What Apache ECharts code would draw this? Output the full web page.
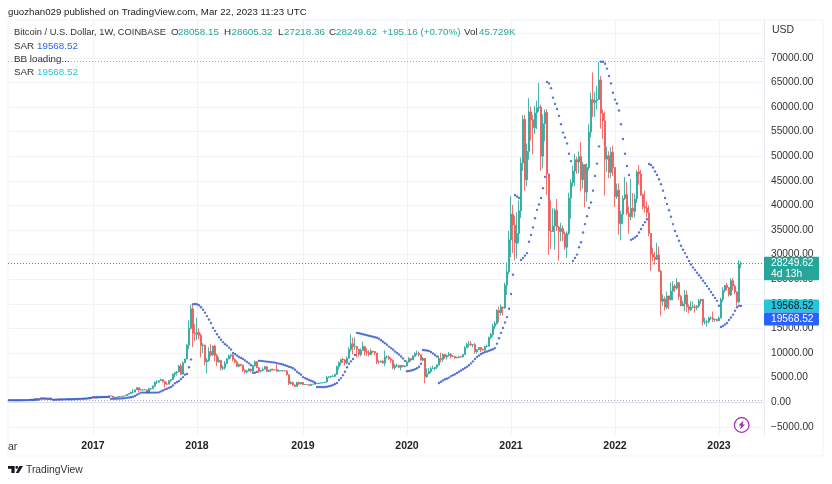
<!DOCTYPE html>
<html>
<head>
<meta charset="utf-8">
<script src="https://cdn.jsdelivr.net/npm/echarts@6/dist/echarts.min.js"></script>
<style>
  html, body { margin: 0; padding: 0; background: #fff; }
  #chart { width: 832px; height: 484px; }
</style>
</head>
<body>
<div id="chart"></div>
<script>
// weekly candles, one row per week as [close, low, high], grouped by month
const weeks = [
  // 2016, starts at week of Mar 14
  [416,408,420],[417,410,425],[420,412,426],
  [420,415,428],[425,415,430],[450,420,470],[447,436,468],
  [455,440,465],[455,445,470],[440,435,458],[530,440,535],[575,525,590],
  [610,570,625],[760,605,780],[660,550,765],[650,620,680],
  [655,610,680],[665,650,690],[655,650,680],[610,590,665],
  [585,520,615],[570,560,600],[580,565,590],[575,565,590],[610,565,620],
  [605,600,630],[605,600,615],[600,590,610],[615,595,620],
  [615,605,625],[640,610,645],[655,625,660],[700,650,740],[705,680,745],
  [700,695,720],[735,695,760],[730,725,750],[770,725,780],
  [780,755,785],[790,770,795],[890,785,920],[970,880,1000],
  // 2017
  [905,880,1150],[820,750,920],[920,810,930],[920,880,930],[1010,915,1030],
  [1000,960,1070],[1050,980,1055],[1190,1040,1200],[1280,1180,1290],
  [1240,1200,1350],[1000,930,1260],[970,890,1120],[1080,960,1095],
  [1210,1080,1220],[1180,1170,1220],[1240,1180,1250],[1320,1230,1330],
  [1620,1320,1650],[1780,1550,1850],[2050,1700,2100],[2050,1800,2700],[2510,2040,2600],
  [2950,2480,3000],[2520,2100,3000],[2500,2450,2780],[2500,2300,2600],
  [2510,2470,2690],[1950,1840,2540],[2750,1930,2930],[2750,2430,2820],[3220,2650,3450],
  [4070,3200,4200],[4080,3700,4480],[4360,3980,4480],[4580,4320,4780],
  [4220,3950,4700],[3680,3000,4350],[3660,3550,4100],[4380,3650,4450],
  [4600,4160,4620],[5680,4560,5850],[6000,5100,6180],[6130,5400,6310],[7380,6100,7600],
  [5700,5500,7880],[8000,5900,8300],[8790,8000,8800],[11600,8700,11800],
  [15000,10800,16600],[19000,14800,19800],[14000,11200,19700],[13800,12400,15900],
  // 2018
  [14200,12600,17200],[13600,12800,15000],[11500,9100,14000],[11600,10000,12000],[8200,7500,11700],
  [8500,5900,9000],[10300,8200,11200],[9600,9300,11800],[11400,9400,11500],
  [9500,8300,11700],[8200,7300,9900],[8500,8000,9200],[6900,6400,8600],
  [7000,6500,7500],[7900,6600,8400],[8800,7800,9000],[9400,8700,9700],[9600,8900,9800],
  [8700,8300,9700],[8200,7900,8900],[7300,7100,8500],[7700,7100,7800],
  [7500,7300,7800],[6500,6100,7600],[6150,5800,6800],[6380,5800,6500],
  [6750,6200,6900],[6350,6100,6800],[7400,6300,7500],[8200,7300,8500],[7000,6900,8300],
  [6300,5900,7150],[6500,6000,6600],[6700,6300,7100],[7200,6700,7400],
  [6250,6100,7400],[6500,6200,6600],[6700,6100,6800],[6600,6400,6800],
  [6600,6450,6650],[6300,6100,7700],[6400,6300,6700],[6400,6300,6500],[6400,6200,6500],
  [6350,6300,6500],[5600,5400,6500],[3800,3500,5700],[4000,3600,4300],
  [3500,3300,4200],[3200,3100,3600],[4000,3200,4150],[3700,3500,4200],[4000,3650,4100],
  // 2019
  [3600,3500,4100],[3600,3530,3700],[3550,3500,3650],[3400,3350,3590],
  [3650,3400,3700],[3650,3600,3700],[3850,3620,4200],[3800,3700,3880],
  [3900,3700,3950],[3950,3820,3980],[3970,3880,4080],[4090,3950,4120],
  [5050,4080,5350],[5150,4900,5300],[5250,4950,5350],[5250,5100,5600],[5650,5100,5800],
  [7200,5600,7450],[8000,6600,8300],[8700,7500,8700],[8600,8000,9050],
  [8000,7450,8800],[8950,7700,9300],[10700,8900,11200],[11900,10300,13800],
  [11300,9700,13100],[11300,10600,13200],[10800,9100,11100],[9700,9200,10650],[10500,9300,10950],
  [11300,10800,12300],[10300,9500,11500],[10100,9400,10950],[9700,9300,10600],
  [10400,9600,10900],[10300,10000,10450],[10000,9600,10400],[8200,7700,10000],[8150,7750,8500],
  [8300,8000,8500],[7950,7800,8650],[9200,7300,10500],[9200,8900,9550],
  [8800,8650,9500],[8500,8000,9100],[7000,6700,8700],[7400,6500,7800],
  [7500,7150,7800],[7100,6950,7500],[7500,6450,7500],[7250,7100,7550],[7350,7050,7450],
  // 2020
  [8200,7300,8450],[8900,8050,9200],[8600,8250,8950],[9350,8550,9580],
  [9900,9150,10150],[9900,9500,10500],[9650,9300,10300],[8550,8450,9700],
  [8900,8300,9200],[5200,3850,8180],[5800,4900,6900],[6250,5900,6950],[6800,5900,7200],
  [6850,6800,7450],[7100,6450,7200],[7550,6750,7750],[8900,7450,9450],
  [8700,8100,10050],[9700,8200,9900],[9200,8800,9850],[9450,8650,9650],
  [9750,9250,10200],[9350,8900,10000],[9300,9200,9600],[9000,8850,9350],[9070,8950,9250],
  [9250,9050,9450],[9200,9050,9350],[9700,9100,9750],[11050,9650,11400],
  [11750,10950,12100],[11850,11200,12450],[11650,11400,12450],[11700,11150,11800],[10250,9900,12050],
  [10650,9850,10750],[11100,10650,11200],[10700,10150,11150],[10600,10450,10950],
  [11300,10500,11500],[11350,11150,11700],[13100,11350,13350],[13750,12800,14100],
  [15450,13300,15950],[16000,14850,16500],[18650,15750,18900],[18200,16200,19400],[19350,17600,19900],
  [19150,17600,19400],[23800,19000,24300],[26500,21800,28400],[33000,26000,34800],
  // 2021
  [38200,29500,41950],[36000,30300,40100],[32300,28850,37900],[34300,29200,38600],
  [38900,32300,41000],[48600,37400,49700],[57500,47000,58350],[45200,43000,58400],
  [51000,43900,52600],[59000,49300,61800],[57400,53200,60100],[55800,50400,58400],[58800,54500,60200],
  [59800,55500,61300],[60000,59000,64900],[50000,47000,60500],[56600,47500,58500],
  [58900,53000,59500],[46400,42100,59600],[34800,30000,45900],[34700,31100,41000],[35800,34800,39400],
  [39000,31000,39400],[35600,34800,41300],[34700,28800,35800],[35300,32700,36500],
  [34200,32700,35900],[31500,31000,34700],[34300,29300,34700],[41500,34000,42600],
  [44600,37300,45300],[47000,43800,48100],[49300,43950,50500],[48800,46400,49900],[49900,46500,51000],
  [45200,42900,52900],[48300,43400,48800],[42700,39600,48400],[47700,40800,48500],
  [54900,47100,56500],[61500,53800,62900],[60900,58000,67000],[61300,58000,63000],
  [61500,59500,64300],[65500,62300,69200],[58700,55600,66300],[57200,53500,59500],[49400,42000,59100],
  [50100,46800,51900],[46700,45500,51000],[50800,45600,51800],[47700,46000,52100],
  // 2022
  [41800,39700,47500],[43100,41300,44450],[36300,34000,44500],[38200,32900,38900],[41400,36200,42000],
  [42200,41100,45800],[38400,38000,44750],[37700,34300,39800],[39400,37000,45400],
  [38800,37500,42500],[41300,37600,42400],[46800,40500,47100],[46400,44200,48200],
  [42150,41900,47200],[39700,39200,42400],[39450,38600,43000],[38500,37600,40800],
  [34300,33700,40000],[30100,26700,34200],[29500,28700,31400],[29000,28000,30500],[29900,29300,32400],
  [26600,26500,31700],[20500,17600,26900],[21000,19600,21900],[19300,18600,21500],
  [21600,18900,22500],[20800,18900,21000],[22600,20700,24300],[23600,20700,24600],
  [23200,22400,24000],[24300,22800,25200],[21500,20800,24500],[19600,19500,21800],[20000,19500,20600],
  [21800,18500,22800],[19400,18300,22700],[18800,18100,19900],[19300,18500,20500],
  [19400,19100,20500],[19250,18200,19900],[19550,18700,19700],[20600,19200,21000],[20900,20000,21000],
  [16300,15600,21000],[16300,15800,17200],[16400,15400,16800],[17100,16000,17400],
  [17100,16700,17400],[16800,16300,18400],[16850,16300,17000],[16550,16350,16950],
  // 2023
  [17100,16500,17400],[20900,17150,21250],[22700,20400,23400],[23750,22300,23800],[23300,22700,24250],
  [21800,21450,23400],[24700,21600,25200],[23600,22750,25250],[22400,21950,23900],
  [20400,19550,22550],[28058.15,20100,28900],[28249.62,27218.36,28605.32],
];

// SAR dots, one value per week
const sar = [
  385,388,392,396,400,405,410,415,420,425,430,
  440,450,470,510,560,775,765,750,735,720,
  700,480,500,520,540,555,570,580,590,595,
  600,610,620,640,660,680,700,720,750,800,850,
  // 2017
  1000,1040,1050,1060,1060,1065,1070,1070,1075,680,
  690,700,720,740,770,800,830,880,950,1000,
  1100,1250,1500,1750,1950,1950,1950,1950,1950,1950,
  1950,1950,1950,2000,2200,2400,2600,2750,2950,3100,
  3400,3860,4100,4300,4700,5100,5600,5750,7100,8700,19900,19950,
  // 2018
  19900,19700,19300,18800,18200,17500,16800,16100,15100,14500,
  13800,13200,12700,12200,11800,11500,11100,10700,10000,9800,
  9500,9200,9000,8800,8500,8200,7900,7500,6000,6000,
  6200,8400,8400,8350,8300,8250,8200,8150,8100,8050,
  7950,7850,7750,7650,7500,7350,7200,7100,6900,6600,6200,5900,5600,
  // 2019
  5100,4900,4700,4500,4350,4200,3950,3100,3100,3100,
  3100,3100,3150,3250,3350,3500,3700,3900,4500,4900,
  5500,6200,7100,7800,8300,8800,9600,14100,14000,13900,
  13800,13700,13600,13500,13400,13300,13200,13100,12900,12600,
  12300,12000,11700,11300,11000,10700,10300,10000,9700,9300,8900,8400,
  // 2020
  6300,6350,6450,6550,6700,6900,7200,7800,10600,10550,
  10500,10400,10200,9900,9600,9300,3900,4150,4400,4650,
  4800,5000,5300,5500,5700,5950,6200,6450,6700,6950,
  7200,7500,7900,8300,8800,9200,9500,9800,10000,10200,
  10300,10450,10600,10750,11000,11900,13000,14100,15100,16200,17300,19000,
  // 2021
  22000,25900,42100,41800,41500,28900,29300,29800,30300,32600,
  34000,35500,37400,39100,40200,41500,43500,45800,
  65100,64800,63800,61900,60600,59600,58200,56500,
  54800,53800,52600,50500,49000,
  28700,29300,30000,31500,32500,34500,36200,
  37800,39500,40600,43000,46000,48500,52000,
  69200,69200,68800,67800,66300,64800,62900,
  // 2022
  61500,60700,59300,56500,53500,50500,48000,46200,
  33000,33200,33500,33800,34500,35200,36000,36600,37200,
  48400,48200,47700,46900,46200,45300,44300,43000,41500,
  40300,39000,37700,36200,34800,33800,32800,31800,31000,30300,
  29500,28700,28000,27400,26900,26300,25800,25300,24700,24200,
  23600,23000,22400,21800,21200,20600,
  // 2023
  19600,15300,15500,15800,16100,16700,17200,17800,18600,19300,19600,19568.52,
];

const lastClose = 28249.62;
const sarLast = 19568.52;
const up = '#26a69a';
const down = '#ef5350';
const gridColor = '#f0f3fa';
const font = '"Liberation Sans", sans-serif';

// open of a week is the close of the week before
const candles = weeks.map((w, i) => [i ? weeks[i - 1][0] : 412, w[0], w[1], w[2]]);

// week axis, with some empty room after the last candle
const dates = [];
for (let i = 0; i < 378; i++) {
  dates.push(new Date(Date.UTC(2016, 2, 14 + i * 7)));
}
const isYearStart = i => i > 0 && dates[i].getUTCFullYear() !== dates[i - 1].getUTCFullYear();

const priceTicks = [];
for (let v = -5000; v <= 75000; v += 5000) priceTicks.push(v);

const chart = echarts.init(document.getElementById('chart'), null, { renderer: 'canvas' });

chart.setOption({
  animation: false,
  backgroundColor: '#fff',
  grid: { left: 8, right: 68, top: 20, bottom: 49 },
  xAxis: {
    type: 'category',
    data: dates.map(d => d.toISOString().slice(0, 10)),
    axisLine: { lineStyle: { color: '#e0e3eb' } },
    axisTick: { show: false },
    axisLabel: {
      interval: i => isYearStart(i),
      formatter: (_v, i) => String(dates[i].getUTCFullYear()),
      color: '#222',
      fontFamily: font,
      fontSize: 10.5,
      fontWeight: 'bold',
      margin: 6,
    },
    splitLine: {
      show: true,
      alignWithLabel: true,
      interval: i => isYearStart(i),
      lineStyle: { color: gridColor },
    },
  },
  yAxis: {
    type: 'value',
    position: 'right',
    min: -6667,
    max: 77683,
    scale: true,
    axisLine: { show: true, lineStyle: { color: '#e8ebf2' } },
    axisTick: { show: false, customValues: priceTicks },
    axisLabel: {
      customValues: priceTicks.filter(v => v <= 70000),
      formatter: v => (v < 0 ? '\u2212' + Math.abs(v).toFixed(2) : v.toFixed(2)),
      color: '#333',
      fontFamily: font,
      fontSize: 10.2,
      margin: 7,
    },
    splitLine: { show: true, lineStyle: { color: gridColor } },
  },
  series: [
    {
      name: 'Bitcoin / U.S. Dollar',
      type: 'candlestick',
      data: candles,
      barWidth: 1.8,
      itemStyle: { color: up, color0: down, borderColor: up, borderColor0: down, borderWidth: 0.9, opacity: 0.92 },
    },
    // price lines, each its own series so the line colours stay apart
    {
      name: 'Last',
      type: 'line',
      data: [],
      markLine: {
        silent: true,
        symbol: 'none',
        label: { show: false },
        lineStyle: { color: up, type: [1, 2], width: 1, opacity: 1 },
        data: [{ yAxis: lastClose }],
      },
    },
    {
      name: 'Range',
      type: 'line',
      data: [],
      markLine: {
        silent: true,
        symbol: 'none',
        label: { show: false },
        lineStyle: { color: '#a8abb3', type: [1, 2], width: 1, opacity: 1 },
        data: [{ yAxis: 69200 }, { yAxis: 300 }],
      },
    },
    {
      name: 'SAR',
      type: 'scatter',
      data: sar,
      symbolSize: 2.4,
      itemStyle: { color: '#2f52d0' },
      z: 5,
    },
  ],
});

// text and price tags around the plot
const label = (x, y, text, fill, size, extra) => ({
  type: 'text',
  x,
  y,
  z: 100,
  style: Object.assign({
    text,
    fill: fill || '#333',
    font: (size || 9.8) + 'px ' + font,
    textVerticalAlign: 'middle',
  }, extra),
});

const tag = (y0, h, color) => ({
  type: 'rect',
  z: 99,
  shape: { x: 764, y: y0, width: 55, height: h, r: 1 },
  style: { fill: color },
});

const polygon = (points, fill, z) => ({
  type: 'polygon',
  z,
  shape: { points },
  style: { fill },
});

const lastY = chart.convertToPixel({ yAxisIndex: 0 }, lastClose);
const sarY = chart.convertToPixel({ yAxisIndex: 0 }, sarLast);

chart.setOption({
  graphic: {
    elements: [
      // outer frame of the price and time scales
      {
        type: 'rect',
        z: 1,
        shape: { x: 8, y: 20, width: 815, height: 436 },
        style: { fill: 'none', stroke: '#f0f3fa', lineWidth: 1 },
      },
      label(8, 12, 'guozhan029 published on TradingView.com, Mar 22, 2023 11:23 UTC', '#222', 9.7),
      label(14, 32, 'Bitcoin / U.S. Dollar, 1W, COINBASE', '#333', 9.3),
      label(171, 32, 'O'), label(178, 32, '28058.15', up),
      label(224, 32, 'H'), label(231.5, 32, '28605.32', up),
      label(278, 32, 'L'), label(284, 32, '27218.36', up),
      label(329, 32, 'C'), label(336, 32, '28249.62', up),
      label(382, 32, '+195.16 (+0.70%)', up),
      label(464, 32, 'Vol'), label(479, 32, '45.729K', up),
      label(14, 46, 'SAR'), label(37, 46, '19568.52', '#2962ff'),
      label(14, 59, 'BB loading...'),
      label(14, 72, 'SAR'), label(37, 72, '19568.52', '#26c6da'),
      label(772, 30, 'USD', '#333', 10.5),
      label(8, 447, 'ar', '#333', 10.5),
      // last price tag
      tag(lastY - 6.5, 23.5, up),
      label(771, lastY, '28249.62', '#fff', 10.2),
      label(771, lastY + 11, '4d 13h', '#fff', 10.2),
      // SAR tags
      tag(sarY - 6.5, 13, '#26c6da'),
      label(771, sarY, '19568.52', '#131722', 10.2),
      tag(sarY + 6.5, 13, '#2962ff'),
      label(771, sarY + 13, '19568.52', '#fff', 10.2),
      // lightning badge
      {
        type: 'circle',
        z: 50,
        shape: { cx: 741.7, cy: 425, r: 7.3 },
        style: { fill: '#fff', stroke: '#9c27b0', lineWidth: 1.2 },
      },
      polygon([[743.5, 420.5], [738.5, 425.5], [741, 425.5], [740, 429.5], [745, 424.5], [742.5, 424.5]], '#9c27b0', 51),
      // TradingView mark
      polygon([[8, 466], [14.6, 466], [14.6, 473], [11.4, 473], [11.4, 468.8], [8, 468.8]], '#131722', 50),
      polygon([[18.6, 473], [15.9, 473], [19.4, 466], [23, 466]], '#131722', 50),
      { type: 'circle', z: 50, shape: { cx: 16.8, cy: 467.4, r: 1.4 }, style: { fill: '#131722' } },
      label(26, 470, 'TradingView', '#333', 10.3),
    ],
  },
});
</script>
</body>
</html>
